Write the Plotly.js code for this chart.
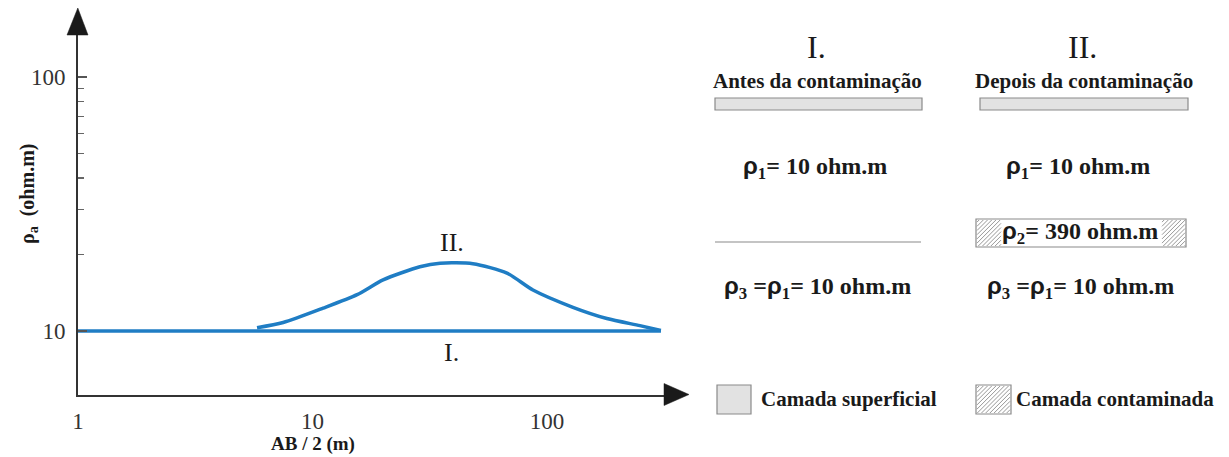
<!DOCTYPE html>
<html>
<head>
<meta charset="utf-8">
<script src="https://cdn.plot.ly/plotly-3.0.1.min.js"></script>
<style>
  html, body { margin: 0; padding: 0; background: #ffffff; }
  #chart { width: 1229px; height: 457px; }
</style>
</head>
<body>
<div id="chart"></div>
<script>
// Apparent resistivity sounding curves (log-log), before and after contamination
const curveI_x = [1, 306];
const curveI_y = [10, 10];

const curveII_x = [5.8, 7.5, 11.1, 15.5, 20.0, 28.7, 35.0, 48.3, 67.5, 87.1, 129, 180, 249, 306];
const curveII_y = [10.3, 10.8, 12.3, 13.9, 15.9, 17.9, 18.5, 18.4, 16.9, 14.5, 12.4, 11.2, 10.5, 10.05];

const xTickVals = [1, 10, 100];
const xTickText = ['1', '10', '100'];
const yTickVals = [10, 100];
const yTickText = ['10', '100'];
const yMinorVals = [20, 30, 40, 50, 60, 70, 80, 90];

const curveLabels = ['I.', 'II.'];
const curveLabelX = [39.3, 39.3];
const curveLabelY = [8.25, 22.3];

const W = 1229, H = 457;
const px = v => v / W;
const py = v => (H - v) / H;

const SERIF = 'Liberation Serif, Times New Roman, serif';
const SANS = 'Liberation Sans, Arial, sans-serif';
const BLUE = '#1f7dc4';
const TXT = '#1a1a1a';

// plot-area geometry (pixels)
const AX_L = 78, AX_R = 670, AX_B = 394.5, AX_T = 32;
const PX_PER_DEC_X = 234.5, PX_PER_DEC_Y = 254;
const Y10_PX = 331;

const xRange = [0, (AX_R - AX_L) / PX_PER_DEC_X];
const yRange = [1 - (AX_B - Y10_PX) / PX_PER_DEC_Y, 1 + (Y10_PX - AX_T) / PX_PER_DEC_Y];

const traces = [
  { x: curveI_x, y: curveI_y, mode: 'lines', line: { color: BLUE, width: 3.5 }, hoverinfo: 'skip', cliponaxis: false },
  { x: curveII_x, y: curveII_y, mode: 'lines', line: { color: BLUE, width: 3.5, shape: 'spline', smoothing: 0.7 }, hoverinfo: 'skip' }
];

// diagonal hatching inside a pixel rectangle, returned as a paper-space path
function hatch(x0, y0, x1, y1, step) {
  let d = '';
  for (let c = x0 + y0 + step / 2; c < x1 + y1; c += step) {
    const xa = Math.max(x0, c - y1), xb = Math.min(x1, c - y0);
    if (xb <= xa) continue;
    d += `M${px(xa)},${py(c - xa)} L${px(xb)},${py(c - xb)} `;
  }
  return d;
}
function rectShape(x0, y0, x1, y1, fill, lineColor, lw) {
  return { type: 'rect', xref: 'paper', yref: 'paper', x0: px(x0), x1: px(x1), y0: py(y1), y1: py(y0),
           fillcolor: fill, line: { color: lineColor, width: lw } };
}
function pathShape(d, color, lw, fill) {
  return { type: 'path', xref: 'paper', yref: 'paper', path: d,
           fillcolor: fill || 'rgba(0,0,0,0)', line: { color: color, width: lw } };
}
function tri(a, b, c) {
  return `M${px(a[0])},${py(a[1])} L${px(b[0])},${py(b[1])} L${px(c[0])},${py(c[1])} Z`;
}

const shapes = [
  // axis arrowheads
  pathShape(tri([67, AX_T + 3], [88, AX_T + 3], [77.8, 8]), '#1a1a1a', 0.5, '#1a1a1a'),
  pathShape(tri([AX_R - 6, AX_B - 11], [AX_R - 6, AX_B + 11], [689, AX_B]), '#1a1a1a', 0.5, '#1a1a1a'),
  // top layer bars
  rectShape(715, 98, 922, 110, '#e2e2e2', '#8a8a8a', 1.2),
  rectShape(980, 98, 1188, 110, '#e2e2e2', '#8a8a8a', 1.2),
  // interface line (column I)
  { type: 'line', xref: 'paper', yref: 'paper', x0: px(715), x1: px(921), y0: py(242), y1: py(242), line: { color: '#8a8a8a', width: 1.2 } },
  // contaminated layer box (column II)
  pathShape(hatch(977, 220, 1001, 246, 4.2), '#6a6a6a', 0.7),
  pathShape(hatch(1162, 220, 1185, 246, 4.2), '#6a6a6a', 0.7),
  rectShape(976, 219, 1186, 247, 'rgba(0,0,0,0)', '#8a8a8a', 1.2),
  // legend swatches
  rectShape(717, 385, 751, 414, '#e2e2e2', '#8a8a8a', 1.2),
  pathShape(hatch(977, 386, 1010, 413, 4.2), '#6a6a6a', 0.7),
  rectShape(976, 385, 1011, 414, 'rgba(0,0,0,0)', '#8a8a8a', 1.2)
];

function note(text, x, y, size, opts) {
  return Object.assign({ xref: 'paper', yref: 'paper', x: px(x), y: py(y), text: text, showarrow: false,
                         xanchor: 'center', yanchor: 'middle',
                         font: { family: SERIF, size: size, color: TXT } }, opts || {});
}
const rho = s => `<span style="font-family:${SANS}">ρ</span><sub>${s}</sub>`;

const annotations = [
  // curve labels in data coordinates
  ...curveLabels.map((t, i) => ({ x: Math.log10(curveLabelX[i]), y: Math.log10(curveLabelY[i]), xref: 'x', yref: 'y',
      text: t, showarrow: false, font: { family: SERIF, size: 26, color: TXT } })),
  // axis titles
  note('<b>AB / 2 (m)</b>', 313, 444, 19),
  note('<b>ρ<sub>a</sub>  (ohm.m)</b>', 28, 194, 20, { textangle: -90 }),
  // column headers
  note('I.', 816, 47, 32),
  note('II.', 1082, 47, 32),
  note('<b>Antes da contaminação</b>', 817, 81, 21),
  note('<b>Depois da contaminação</b>', 1084, 81, 21),
  // layer resistivities
  note(`<b>${rho('1')}= 10 ohm.m</b>`, 815, 167, 24),
  note(`<b>${rho('1')}= 10 ohm.m</b>`, 1078, 167, 24),
  note(`<b>${rho('2')}= 390 ohm.m</b>`, 1080, 232, 24),
  note(`<b>${rho('3')} =${rho('1')}= 10 ohm.m</b>`, 817, 287, 24),
  note(`<b>${rho('3')} =${rho('1')}= 10 ohm.m</b>`, 1080, 287, 24),
  // legend
  note('<b>Camada superficial</b>', 759, 399, 21, { xanchor: 'left' }),
  note('<b>Camada contaminada</b>', 1014, 399, 21, { xanchor: 'left' })
];

const layout = {
  width: W, height: H,
  margin: { l: 0, r: 0, t: 0, b: 0, pad: 0 },
  paper_bgcolor: '#ffffff', plot_bgcolor: '#ffffff',
  showlegend: false,
  font: { family: SERIF, size: 18, color: TXT },
  xaxis: {
    type: 'log', range: xRange, domain: [px(AX_L), px(AX_R)],
    showgrid: false, zeroline: false,
    showline: true, linecolor: '#333333', linewidth: 2,
    tickmode: 'array', tickvals: xTickVals, ticktext: xTickText, ticks: '',
    tickfont: { family: SERIF, size: 23, color: '#333333' }, ticklabelstandoff: 5
  },
  yaxis: {
    type: 'log', range: yRange, domain: [py(AX_B), py(AX_T)],
    showgrid: false, zeroline: false,
    showline: true, linecolor: '#333333', linewidth: 2,
    tickmode: 'array', tickvals: yTickVals, ticktext: yTickText,
    ticks: 'inside', ticklen: 9, tickwidth: 1.5, tickcolor: '#555555',
    minor: { tickmode: 'array', tickvals: yMinorVals, ticks: 'inside', ticklen: 6, tickwidth: 1.2, tickcolor: '#666666', showgrid: false },
    tickfont: { family: SERIF, size: 23, color: '#333333' }, ticklabelstandoff: 6
  },
  shapes: shapes,
  annotations: annotations
};

Plotly.newPlot('chart', traces, layout, { staticPlot: true, displayModeBar: false });
</script>
</body>
</html>
